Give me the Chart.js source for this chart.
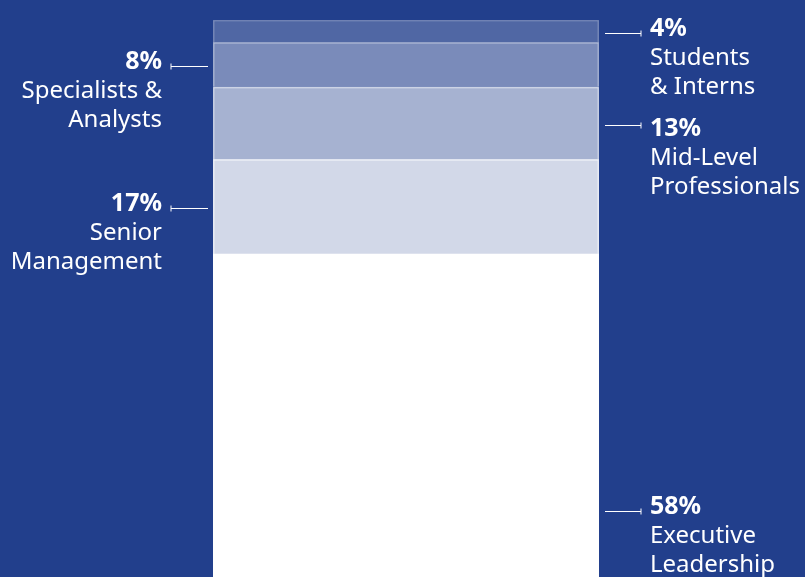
<!DOCTYPE html>
<html>
<head>
<meta charset="utf-8">
<script src="https://cdn.jsdelivr.net/npm/chart.js@4"></script>
<style>
  html, body { margin: 0; padding: 0; background: #223f8c; }
  #wrap { width: 805px; height: 577px; }
</style>
</head>
<body>
<div id="wrap"><canvas id="myChart"></canvas></div>
<script>
// data
const categories = ['Workforce'];
const levels = ['Executive Leadership', 'Senior Management', 'Mid-Level Professionals', 'Specialists & Analysts', 'Students & Interns'];
const shares = [58, 17, 13, 8, 4];
const labelLines = [
  ['Executive', 'Leadership'],
  ['Senior', 'Management'],
  ['Mid-Level', 'Professionals'],
  ['Specialists &', 'Analysts'],
  ['Students', '& Interns']
];
const labelSide = ['right', 'left', 'right', 'left', 'right'];
const fills = ['#ffffff', 'rgba(255,255,255,0.8)', 'rgba(255,255,255,0.6)', 'rgba(255,255,255,0.4)', 'rgba(255,255,255,0.21)'];
const edges = ['#ffffff', 'rgba(255,255,255,0.86)', 'rgba(255,255,255,0.68)', 'rgba(255,255,255,0.5)', 'rgba(255,255,255,0.32)'];

// labels with little leader lines next to the bar
const sideLabels = {
  id: 'sideLabels',
  afterDatasetsDraw(chart) {
    const ctx = chart.ctx;
    const yScale = chart.scales.y;
    const bar = chart.getDatasetMeta(0).data[0];
    const left = bar.x - bar.width / 2;
    const right = bar.x + bar.width / 2;
    const bottom = chart.chartArea.bottom;

    // leader line position for each segment
    let base = 0;
    const items = shares.map((v, i) => {
      const mid = yScale.getPixelForValue(base + v / 2);
      // bottom segment gets its label pushed down near the bottom edge
      let y = base === 0 ? bottom - 66 : mid + 1.5;
      base += v;
      return { i: i, v: v, y: Math.round(y) + 0.5 };
    });

    // keep label blocks on the same side from overlapping (top to bottom)
    const lastTop = { left: -1e9, right: -1e9 };
    items.slice().sort((a, b) => a.y - b.y).forEach(it => {
      const side = labelSide[it.i];
      it.ty = Math.max(it.y - 6.5, lastTop[side] + 100);
      lastTop[side] = it.ty;
    });

    ctx.save();
    ctx.strokeStyle = '#ffffff';
    ctx.fillStyle = '#ffffff';
    ctx.lineWidth = 1;
    ctx.textBaseline = 'alphabetic';
    items.forEach(it => {
      const onRight = labelSide[it.i] === 'right';
      const y = it.y;
      const x0 = onRight ? right + 6 : left - 5;
      const x1 = onRight ? right + 42 : left - 42;
      ctx.beginPath();
      ctx.moveTo(x0, y);
      ctx.lineTo(x1, y);
      ctx.moveTo(x1, y - 3);
      ctx.lineTo(x1, y + 3);
      ctx.stroke();
      const tx = onRight ? x1 + 9 : x1 - 9;
      ctx.textAlign = onRight ? 'left' : 'right';
      ctx.font = 'bold 25px "Noto Sans"';
      ctx.fillText(it.v + '%', tx, it.ty + 9);
      ctx.font = '24px "Noto Sans"';
      ctx.fillText(labelLines[it.i][0], tx, it.ty + 38.1);
      ctx.fillText(labelLines[it.i][1], tx, it.ty + 66.6);
    });
    ctx.restore();
  }
};

const datasets = levels.map((name, i) => ({
  label: name,
  data: [shares[i]],
  backgroundColor: fills[i],
  borderColor: edges[i],
  borderWidth: 1,
  barPercentage: 1,
  categoryPercentage: 1
}));

new Chart(document.getElementById('myChart'), {
  type: 'bar',
  data: { labels: categories, datasets: datasets },
  options: {
    responsive: true,
    maintainAspectRatio: false,
    animation: false,
    layout: { padding: { left: 213, right: 206, top: 20, bottom: 0 } },
    plugins: { legend: { display: false }, tooltip: { enabled: false } },
    scales: {
      x: { stacked: true, display: false },
      y: { stacked: true, display: false, min: 0, max: 100 }
    }
  },
  plugins: [sideLabels]
});
</script>
</body>
</html>
